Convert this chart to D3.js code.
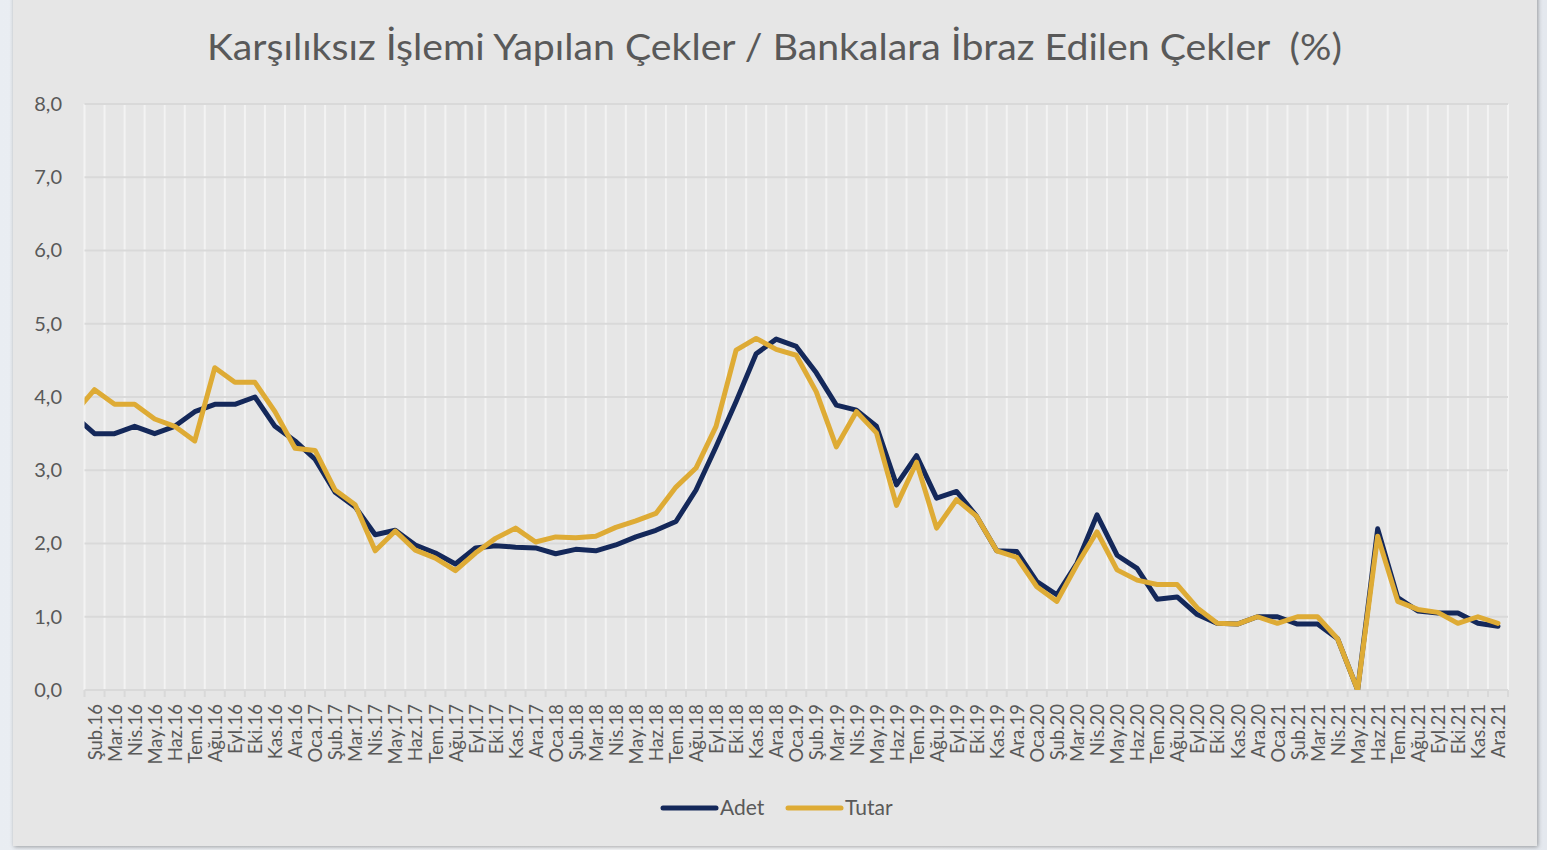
<!DOCTYPE html>
<html>
<head>
<meta charset="utf-8">
<script src="https://cdn.jsdelivr.net/npm/d3@7"></script>
<style>
  html, body { margin: 0; padding: 0; }
  body { width: 1547px; height: 850px; overflow: hidden;
         background: linear-gradient(90deg, #e9edf2 0%, #f7f8fa 40%, #f7f8fa 60%, #e4e8ee 100%); }
  svg { display: block; }
</style>
</head>
<body>
<svg id="chart" width="1547" height="850"></svg>
<script>
// ---- Data ----
const title = "Karşılıksız İşlemi Yapılan Çekler / Bankalara İbraz Edilen Çekler  (%)";

// First category (Oca.16) lies just left of the plot area and is clipped, as in the reference.
const categories = [
  "Oca.16",
  "Şub.16","Mar.16","Nis.16","May.16","Haz.16","Tem.16","Ağu.16","Eyl.16","Eki.16","Kas.16","Ara.16",
  "Oca.17","Şub.17","Mar.17","Nis.17","May.17","Haz.17","Tem.17","Ağu.17","Eyl.17","Eki.17","Kas.17","Ara.17",
  "Oca.18","Şub.18","Mar.18","Nis.18","May.18","Haz.18","Tem.18","Ağu.18","Eyl.18","Eki.18","Kas.18","Ara.18",
  "Oca.19","Şub.19","Mar.19","Nis.19","May.19","Haz.19","Tem.19","Ağu.19","Eyl.19","Eki.19","Kas.19","Ara.19",
  "Oca.20","Şub.20","Mar.20","Nis.20","May.20","Haz.20","Tem.20","Ağu.20","Eyl.20","Eki.20","Kas.20","Ara.20",
  "Oca.21","Şub.21","Mar.21","Nis.21","May.21","Haz.21","Tem.21","Ağu.21","Eyl.21","Eki.21","Kas.21","Ara.21"
];

const adet = [
  3.74,
  3.5, 3.5, 3.6, 3.5, 3.6, 3.8, 3.9, 3.9, 4.0, 3.6, 3.4,
  3.15, 2.7, 2.5, 2.12, 2.18, 1.98, 1.87, 1.72, 1.94, 1.97, 1.95, 1.94,
  1.86, 1.92, 1.9, 1.98, 2.09, 2.18, 2.3, 2.73, 3.32, 3.94, 4.59, 4.79,
  4.69, 4.33, 3.89, 3.82, 3.6, 2.8, 3.2, 2.62, 2.71, 2.37, 1.9, 1.89,
  1.48, 1.3, 1.73, 2.39, 1.84, 1.66, 1.24, 1.27, 1.03, 0.91, 0.9, 1.0,
  1.0, 0.9, 0.9, 0.7, 0.0, 2.2, 1.26, 1.08, 1.05, 1.05, 0.91, 0.87
];

const tutar = [
  3.78,
  4.1, 3.9, 3.9, 3.7, 3.6, 3.4, 4.4, 4.2, 4.2, 3.8, 3.3,
  3.27, 2.73, 2.53, 1.9, 2.17, 1.91, 1.8, 1.63, 1.87, 2.07, 2.21, 2.02,
  2.09, 2.08, 2.1, 2.22, 2.31, 2.41, 2.77, 3.03, 3.6, 4.64, 4.8, 4.65,
  4.57, 4.07, 3.32, 3.8, 3.51, 2.52, 3.11, 2.21, 2.6, 2.37, 1.9, 1.81,
  1.41, 1.21, 1.71, 2.16, 1.64, 1.5, 1.44, 1.44, 1.12, 0.91, 0.9, 1.0,
  0.91, 1.0, 1.0, 0.7, 0.0, 2.1, 1.21, 1.1, 1.06, 0.91, 1.0, 0.91
];

const yTicks = [0, 1, 2, 3, 4, 5, 6, 7, 8];
const seriesNames = ["Adet", "Tutar"];
const seriesColors = ["#14285a", "#deab35"];

// ---- Layout ----
const svg = d3.select("#chart");
const plot = { left: 84.5, right: 1508, top: 104, bottom: 690 };
const font = "Lato, 'Open Sans', sans-serif";
const textColor = "#595959";

// Chart box
const defs = svg.append("defs");
const f = defs.append("filter").attr("id", "shadow").attr("x", "-5%").attr("y", "-5%").attr("width", "110%").attr("height", "110%");
f.append("feDropShadow").attr("dx", 1).attr("dy", 1).attr("stdDeviation", 2).attr("flood-color", "#000").attr("flood-opacity", 0.35);
svg.append("rect").attr("x", 13).attr("y", -10).attr("width", 1524).attr("height", 856)
  .attr("fill", "#e6e6e6").attr("filter", "url(#shadow)");

// Scales
const x = d3.scaleLinear().domain([0.5, categories.length - 0.5]).range([plot.left, plot.right]);
const y = d3.scaleLinear().domain([0, 8]).range([plot.bottom, plot.top]);

// Vertical grid lines (category boundaries)
const boundaries = d3.range(0.5, categories.length, 1);
svg.append("g").selectAll("line").data(boundaries).join("line")
  .attr("x1", d => x(d)).attr("x2", d => x(d))
  .attr("y1", plot.top).attr("y2", plot.bottom)
  .attr("stroke", "#f3f3f3").attr("stroke-width", 2);

// Horizontal grid lines
svg.append("g").selectAll("line").data(yTicks.filter(d => d > 0)).join("line")
  .attr("x1", plot.left).attr("x2", plot.right)
  .attr("y1", d => y(d)).attr("y2", d => y(d))
  .attr("stroke", "#d9d9d9").attr("stroke-width", 2);

// Y axis labels
const yAxis = d3.axisLeft(y).tickValues(yTicks).tickSize(0).tickPadding(0)
  .tickFormat(d => d3.format(".1f")(d).replace(".", ","));
const gy = svg.append("g").attr("transform", `translate(62,0)`).call(yAxis);
gy.select(".domain").remove();
gy.selectAll("text").attr("font-family", font).attr("font-size", 20).attr("fill", textColor);

// X axis line + tick marks at boundaries
svg.append("line").attr("x1", plot.left).attr("x2", plot.right)
  .attr("y1", plot.bottom).attr("y2", plot.bottom)
  .attr("stroke", "#d9d9d9").attr("stroke-width", 2);
svg.append("g").selectAll("line").data(boundaries).join("line")
  .attr("x1", d => x(d)).attr("x2", d => x(d))
  .attr("y1", plot.bottom).attr("y2", plot.bottom + 7)
  .attr("stroke", "#d9d9d9").attr("stroke-width", 2);

// X axis labels (rotated)
const xAxis = d3.axisBottom(x).tickValues(d3.range(1, categories.length)).tickSize(0)
  .tickFormat(i => categories[i]);
const gx = svg.append("g").attr("transform", `translate(0,${plot.bottom})`).call(xAxis);
gx.select(".domain").remove();
gx.selectAll("text")
  .attr("font-family", font).attr("font-size", 18.5).attr("fill", textColor)
  .attr("transform", "rotate(-90)")
  .attr("text-anchor", "end")
  .attr("x", -14).attr("y", 0).attr("dy", "0.36em");

// Clip for lines
defs.append("clipPath").attr("id", "plotClip").append("rect")
  .attr("x", plot.left).attr("y", 0).attr("width", plot.right - plot.left + 20).attr("height", plot.bottom);

const line = d3.line().x((d, i) => x(i)).y(d => y(d));
const gLines = svg.append("g").attr("clip-path", "url(#plotClip)");
[adet, tutar].forEach((vals, k) => {
  gLines.append("path").datum(vals)
    .attr("d", line)
    .attr("fill", "none")
    .attr("stroke", seriesColors[k])
    .attr("stroke-width", 5)
    .attr("stroke-linejoin", "round")
    .attr("stroke-linecap", "round");
});

// Title
svg.append("text").attr("x", 774.5).attr("y", 60)
  .attr("text-anchor", "middle")
  .style("white-space", "pre")
  .attr("font-family", font).attr("font-size", 36).attr("fill", textColor)
  .attr("textLength", 1135).attr("lengthAdjust", "spacingAndGlyphs")
  .text(title);

// Legend
const legendItems = [
  { name: seriesNames[0], color: seriesColors[0], x0: 663 },
  { name: seriesNames[1], color: seriesColors[1], x0: 788 }
];
const lg = svg.append("g");
legendItems.forEach(it => {
  lg.append("line").attr("x1", it.x0).attr("x2", it.x0 + 53)
    .attr("y1", 808).attr("y2", 808)
    .attr("stroke", it.color).attr("stroke-width", 5).attr("stroke-linecap", "round");
  lg.append("text").attr("x", it.x0 + 57).attr("y", 815)
    .attr("font-family", font).attr("font-size", 21).attr("fill", textColor)
    .text(it.name);
});
</script>
</body>
</html>
